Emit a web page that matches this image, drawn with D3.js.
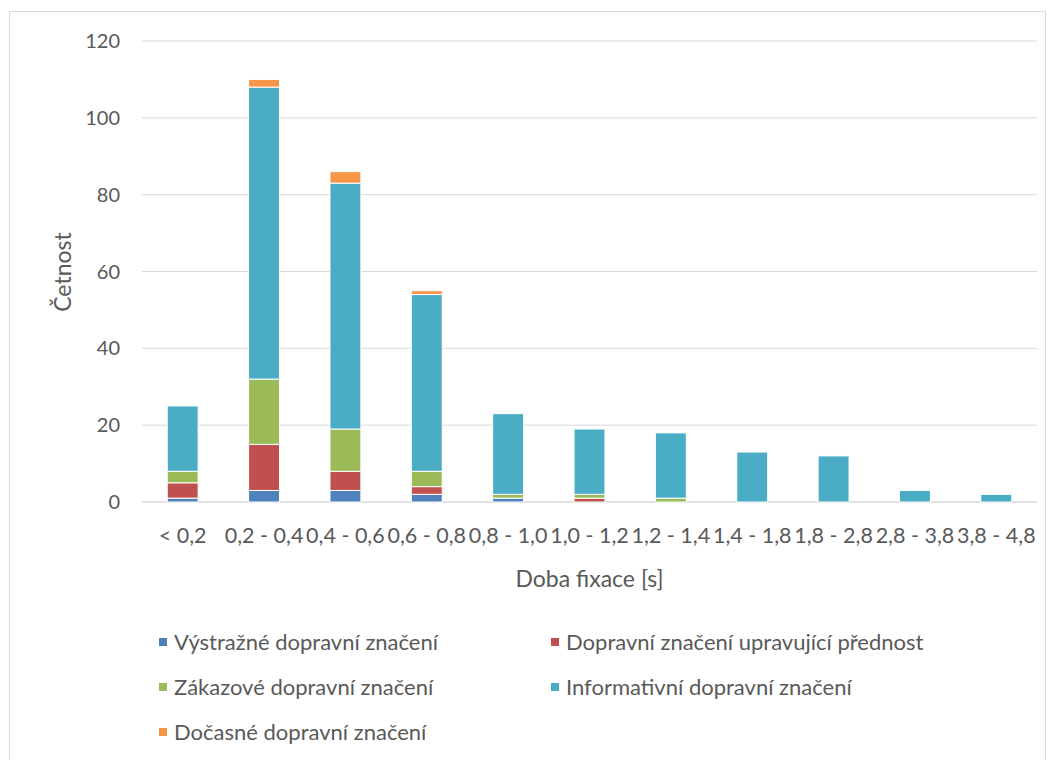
<!DOCTYPE html>
<html><head><meta charset="utf-8">
<script src="https://cdn.jsdelivr.net/npm/d3@7"></script>
<style>body{margin:0;background:#fff}svg{display:block}text{font-family:Lato,"Liberation Sans",sans-serif}</style>
</head><body><svg id="c" width="1054" height="760"></svg>
<script>
const categories = ["< 0,2","0,2 - 0,4","0,4 - 0,6","0,6 - 0,8","0,8 - 1,0","1,0 - 1,2","1,2 - 1,4","1,4 - 1,8","1,8 - 2,8","2,8 - 3,8","3,8 - 4,8"];
const seriesNames = ["Výstražné dopravní značení","Dopravní značení upravující přednost","Zákazové dopravní značení","Informativní dopravní značení","Dočasné dopravní značení"];
const vystrazne   = [1,3,3,2,1,0,0,0,0,0,0];
const prednost    = [4,12,5,2,0,1,0,0,0,0,0];
const zakazove    = [3,17,11,4,1,1,1,0,0,0,0];
const informativni= [17,76,64,46,21,17,17,13,12,3,2];
const docasne     = [0,2,3,1,0,0,0,0,0,0,0];
const colors = ["#4F81BD","#C0504D","#9BBB59","#4BACC6","#F79646"];
const yTicks = [0,20,40,60,80,100,120];

const svg = d3.select("#c");
svg.append("rect").attr("x",9.5).attr("y",11.5).attr("width",1036).attr("height",760).attr("fill","#fff").attr("stroke","#D9D9D9");

const pL=142,pR=1037,pT=41,pB=502;
const x = d3.scaleBand().domain(categories).range([pL,pR]).paddingInner(0.62).paddingOuter(0.31);
const y = d3.scaleLinear().domain([0,120]).range([pB,pT]);

svg.append("g").selectAll("line").data(yTicks).join("line")
  .attr("x1",pL).attr("x2",pR).attr("y1",d=>y(d)).attr("y2",d=>y(d))
  .attr("stroke","#D9D9D9").attr("stroke-width",d=>d===0?1.5:1);
svg.append("g").selectAll("text").data(yTicks).join("text")
  .attr("x",120).attr("y",d=>y(d)).attr("dy","0.35em").attr("text-anchor","end")
  .attr("font-size",20).attr("fill","#595959").text(d=>d);

const rows = categories.map((c,i)=>({cat:c,s0:vystrazne[i],s1:prednost[i],s2:zakazove[i],s3:informativni[i],s4:docasne[i]}));
const stack = d3.stack().keys(["s0","s1","s2","s3","s4"])(rows);
svg.append("g").selectAll("g").data(stack).join("g").attr("fill",(d,i)=>colors[i])
  .selectAll("rect").data(d=>d.filter(p=>p[1]-p[0]>0)).join("rect")
  .attr("x",d=>x(d.data.cat)).attr("width",x.bandwidth())
  .attr("y",d=>y(d[1])).attr("height",d=>y(d[0])-y(d[1]))
  .attr("stroke","#fff").attr("stroke-width",1);

svg.append("g").selectAll("text").data(categories).join("text")
  .attr("x",d=>x(d)+x.bandwidth()/2).attr("y",535).attr("dy","0.35em").attr("text-anchor","middle")
  .attr("font-size",21.5).attr("fill","#595959").text(d=>d);

svg.append("text").attr("x",(pL+pR)/2).attr("y",579).attr("dy","0.35em").attr("text-anchor","middle")
  .attr("font-size",23).attr("fill","#595959").text("Doba fixace [s]");
svg.append("text").attr("transform","translate(63,272) rotate(-90)").attr("dy","0.35em").attr("text-anchor","middle")
  .attr("font-size",23).attr("fill","#595959").text("Četnost");

const legPos = [[159,642],[551,642],[159,687],[551,687],[159,732]];
const lg = svg.append("g").selectAll("g").data(seriesNames).join("g")
  .attr("transform",(d,i)=>`translate(${legPos[i][0]},${legPos[i][1]})`);
lg.append("rect").attr("x",0).attr("y",-4).attr("width",8).attr("height",8).attr("fill",(d,i)=>colors[i]);
lg.append("text").attr("x",15).attr("dy","0.35em").attr("font-size",22).attr("fill","#595959").text(d=>d);
</script></body></html>
